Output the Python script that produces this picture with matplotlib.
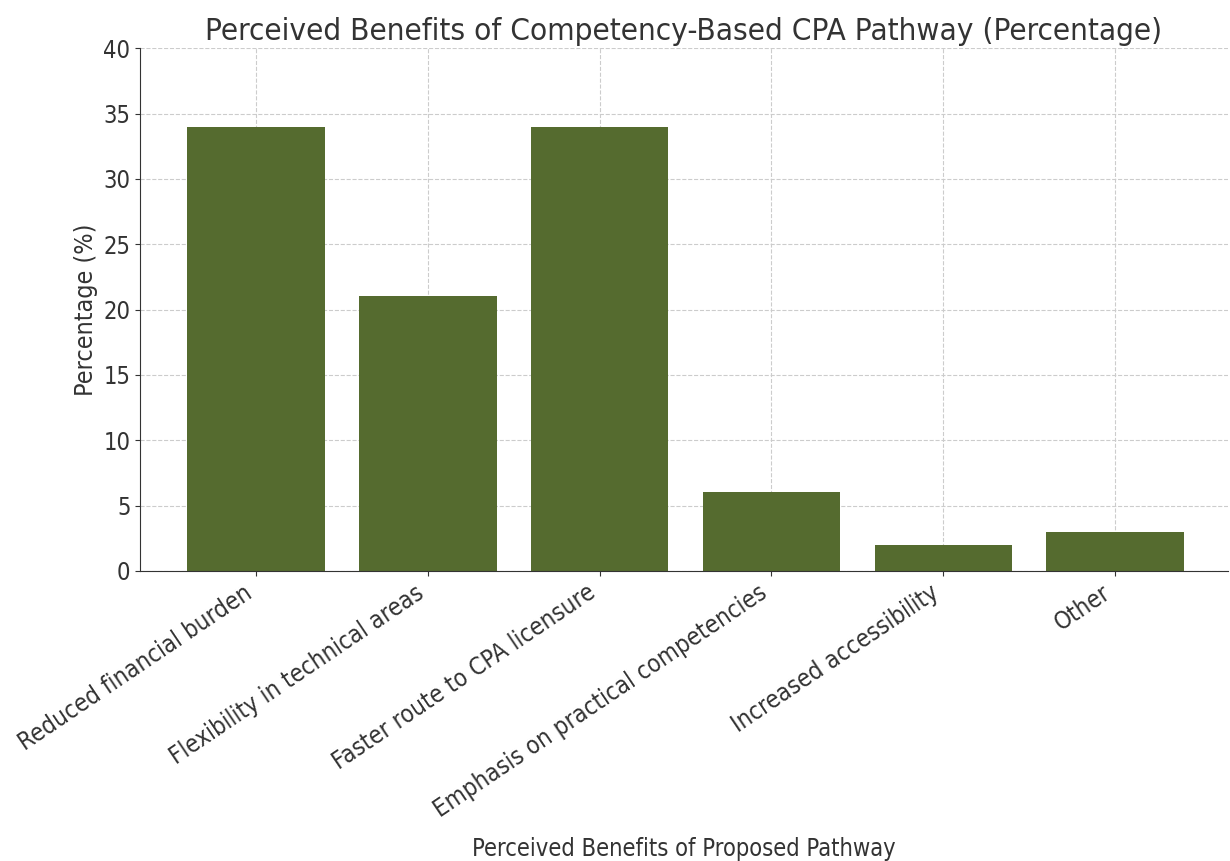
import matplotlib
matplotlib.use("Agg")
import matplotlib.pyplot as plt

benefits = [
    "Reduced financial burden",
    "Flexibility in technical areas",
    "Faster route to CPA licensure",
    "Emphasis on practical competencies",
    "Increased accessibility",
    "Other",
]
percentages = [34, 21, 34, 6, 2, 3]

plt.rcParams["font.family"] = "DejaVu Sans"
plt.rcParams["font.stretch"] = "condensed"

fig, ax = plt.subplots(figsize=(12.3, 8.61), dpi=100)
ax.bar(benefits, percentages, color="#556b2f", width=0.8, zorder=2)

ax.set_ylim(0, 40)
ax.set_xlim(-0.675, 5.655)
ax.set_title("Perceived Benefits of Competency-Based CPA Pathway (Percentage)",
             fontsize=22.6, color="#333333", fontstretch="condensed")
ax.set_xlabel("Perceived Benefits of Proposed Pathway", fontsize=17,
              color="#333333", fontstretch="condensed")
ax.xaxis.set_label_coords(0.5, -0.51)
ax.set_ylabel("Percentage (%)", fontsize=18, color="#333333",
              fontstretch="condensed")

ax.tick_params(axis="y", labelsize=17, colors="#333333")
ax.tick_params(axis="x", labelsize=17.3, colors="#333333")
for lab in ax.get_xticklabels():
    lab.set_rotation(34)
    lab.set_ha("right")
    lab.set_fontstretch("condensed")
for lab in ax.get_yticklabels():
    lab.set_fontstretch("condensed")

ax.grid(True, linestyle="--", color="#cccccc", linewidth=0.8, zorder=0)
ax.spines["top"].set_visible(False)
ax.spines["right"].set_visible(False)
ax.spines["left"].set_color("#333333")
ax.spines["bottom"].set_color("#333333")

plt.subplots_adjust(left=0.114, right=0.998, top=0.944, bottom=0.337)
plt.savefig("out.png", dpi=100)
